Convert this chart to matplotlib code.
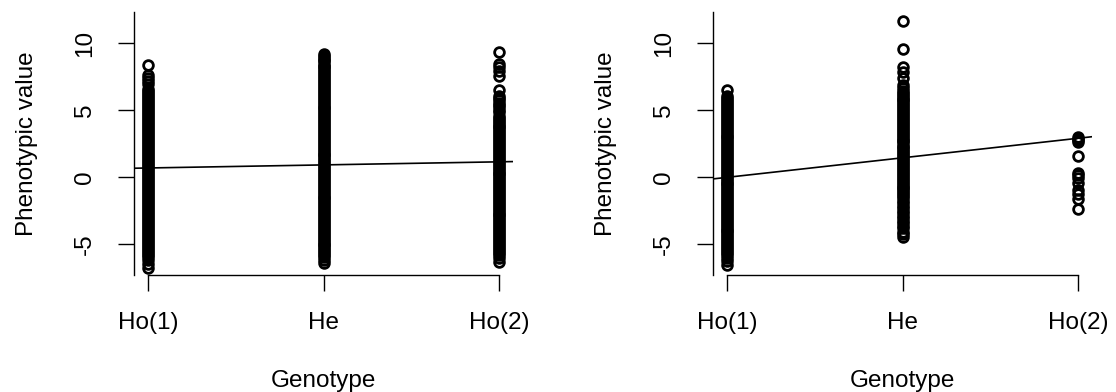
import numpy as np
import matplotlib.pyplot as plt

plt.rcParams['font.family'] = ['Liberation Sans', 'DejaVu Sans']

# #############################################################################
# Phenotypic values per genotype class, two loci
genotypes = ['Ho(1)', 'He', 'Ho(2)']

ho1_a = [8.36, 7.62, 7.38, 7.16, 6.92, 6.58, 6.41, 6.27, 6.12, 5.96, 5.83, 5.68,
         5.52, 5.39, 5.22, 5.08, 4.93, 4.77, 4.64, 4.49, 4.33, 4.18, 4.04, 3.89,
         3.73, 3.58, 3.44, 3.29, 3.13, 2.98, 2.84, 2.69, 2.53, 2.38, 2.24, 2.09,
         1.94, 1.78, 1.63, 1.49, 1.33, 1.18, 1.04, 0.88, 0.73, 0.59, 0.43, 0.28,
         0.13, -0.02, -0.17, -0.32, -0.47, -0.62, -0.77, -0.92, -1.07, -1.22,
         -1.37, -1.52, -1.67, -1.82, -1.97, -2.12, -2.27, -2.42, -2.57, -2.72,
         -2.87, -3.02, -3.17, -3.32, -3.47, -3.62, -3.77, -3.92, -4.07, -4.22,
         -4.37, -4.52, -4.67, -4.82, -4.97, -5.12, -5.27, -5.42, -5.57, -5.72,
         -5.87, -6.02, -6.24, -6.52, -6.81]
he_a = [9.21, 9.06, 8.92, 8.77, 8.63, 8.48, 8.33, 8.19, 8.04, 7.89, 7.75, 7.6,
        7.46, 7.31, 7.16, 7.02, 6.87, 6.72, 6.58, 6.43, 6.29, 6.14, 5.99, 5.85,
        5.7, 5.55, 5.41, 5.26, 5.12, 4.97, 4.82, 4.68, 4.53, 4.38, 4.24, 4.09,
        3.95, 3.8, 3.65, 3.51, 3.36, 3.21, 3.07, 2.92, 2.78, 2.63, 2.48, 2.34,
        2.19, 2.04, 1.9, 1.75, 1.61, 1.46, 1.31, 1.17, 1.02, 0.87, 0.73, 0.58,
        0.44, 0.29, 0.14, 0.0, -0.15, -0.3, -0.44, -0.59, -0.73, -0.88, -1.03,
        -1.17, -1.32, -1.47, -1.61, -1.76, -1.9, -2.05, -2.2, -2.34, -2.49,
        -2.64, -2.78, -2.93, -3.07, -3.22, -3.37, -3.51, -3.66, -3.81, -3.95,
        -4.1, -4.24, -4.39, -4.54, -4.68, -4.83, -4.98, -5.12, -5.27, -5.41,
        -5.56, -5.71, -5.85, -6.02, -6.21, -6.42]
ho2_a = [9.35, 8.46, 8.21, 7.93, 7.58, 6.52, 6.03, 5.88, 5.72, 5.55, 5.38, 5.2,
         5.02, 4.82, 4.57, 4.43, 4.28, 4.14, 3.99, 3.84, 3.7, 3.55, 3.41, 3.26,
         3.11, 2.97, 2.82, 2.67, 2.53, 2.38, 2.24, 2.09, 1.94, 1.8, 1.65, 1.5,
         1.36, 1.21, 1.07, 0.92, 0.77, 0.63, 0.48, 0.33, 0.19, 0.04, -0.1, -0.25,
         -0.4, -0.54, -0.69, -0.84, -0.98, -1.13, -1.27, -1.42, -1.57, -1.71,
         -1.86, -2.01, -2.15, -2.3, -2.44, -2.59, -2.74, -2.88, -3.03, -3.18,
         -3.32, -3.47, -3.61, -3.76, -3.91, -4.05, -4.2, -4.35, -4.49, -4.64,
         -4.78, -4.93, -5.08, -5.22, -5.37, -5.52, -5.68, -5.86, -6.05, -6.38]

ho1_b = [6.51, 6.02, 5.87, 5.73, 5.58, 5.43, 5.29, 5.14, 5.0, 4.85, 4.7, 4.56,
         4.41, 4.26, 4.12, 3.97, 3.83, 3.68, 3.53, 3.39, 3.24, 3.09, 2.95, 2.8,
         2.66, 2.51, 2.36, 2.22, 2.07, 1.92, 1.78, 1.63, 1.49, 1.34, 1.19, 1.05,
         0.9, 0.75, 0.61, 0.46, 0.32, 0.17, 0.02, -0.12, -0.27, -0.42, -0.56,
         -0.71, -0.85, -1.0, -1.15, -1.29, -1.44, -1.59, -1.73, -1.88, -2.02,
         -2.17, -2.32, -2.46, -2.61, -2.76, -2.9, -3.05, -3.19, -3.34, -3.49,
         -3.63, -3.78, -3.93, -4.07, -4.22, -4.36, -4.51, -4.66, -4.8, -4.95,
         -5.1, -5.24, -5.39, -5.53, -5.68, -5.85, -6.04, -6.31, -6.6]
he_b = [11.62, 9.54, 8.21, 7.83, 7.42, 6.86, 6.64, 6.45, 6.3, 6.16, 6.01, 5.86,
        5.72, 5.57, 5.43, 5.28, 5.13, 4.99, 4.84, 4.69, 4.55, 4.4, 4.26, 4.11,
        3.96, 3.82, 3.67, 3.52, 3.38, 3.23, 3.09, 2.94, 2.79, 2.65, 2.5, 2.35,
        2.21, 2.06, 1.92, 1.77, 1.62, 1.48, 1.33, 1.18, 1.04, 0.89, 0.75, 0.6,
        0.45, 0.31, 0.16, 0.01, -0.13, -0.28, -0.42, -0.57, -0.72, -0.86, -1.01,
        -1.16, -1.3, -1.45, -1.59, -1.78, -1.96, -2.15, -2.33, -2.52, -2.7,
        -2.89, -3.07, -3.26, -3.44, -3.63, -3.84, -4.08, -4.29, -4.52]
ho2_b = [2.98, 2.86, 2.74, 2.63, 1.6, 0.26, 0.11, -0.06, -0.46, -0.96, -1.31,
         -1.66, -2.42]

# regression lines: intercept, slope
fit_a = (0.67, 0.23)
fit_b = (-0.03, 1.46)

yticks = [-5, 0, 5, 10]
ylim = (-7.33, 12.33)

# #############################################################################
# Plot
fig = plt.figure(figsize=(11.16, 3.92), dpi=100)
W, H = 1116.0, 392.0
ax1 = fig.add_axes([134 / W, 117 / H, 379 / W, 263 / H])
ax2 = fig.add_axes([713 / W, 117 / H, 379 / W, 263 / H])

panels = [(ax1, [ho1_a, he_a, ho2_a], fit_a),
          (ax2, [ho1_b, he_b, ho2_b], fit_b)]

for ax, cols, fit in panels:
    for i, vals in enumerate(cols):
        ax.plot([i] * len(vals), vals, 'o', mfc='none', mec='black',
                ms=7.0, mew=2.0)
    ax.axline((0, fit[0]), slope=fit[1], color='black', lw=1.2)

    ax.set_xlim(-0.08, 2.08)
    ax.set_ylim(*ylim)
    ax.spines['top'].set_visible(False)
    ax.spines['right'].set_visible(False)
    ax.spines['left'].set_linewidth(1.0)
    ax.spines['bottom'].set_linewidth(1.0)
    ax.spines['bottom'].set_bounds(0, 2)

    ax.set_xticks([0, 1, 2])
    ax.set_xticklabels(genotypes)
    ax.set_yticks(yticks)
    ax.set_yticklabels([str(t) for t in yticks], rotation=90, va='center')
    ax.tick_params(axis='both', length=11.5, width=1.0, labelsize=17.5)
    ax.tick_params(axis='x', pad=15)
    ax.tick_params(axis='y', pad=16)

    ax.set_xlabel('Genotype', fontsize=17.5, labelpad=26)
    ax.set_ylabel('Phenotypic value', fontsize=17.5, labelpad=26)

plt.savefig('out.png', dpi=100)
